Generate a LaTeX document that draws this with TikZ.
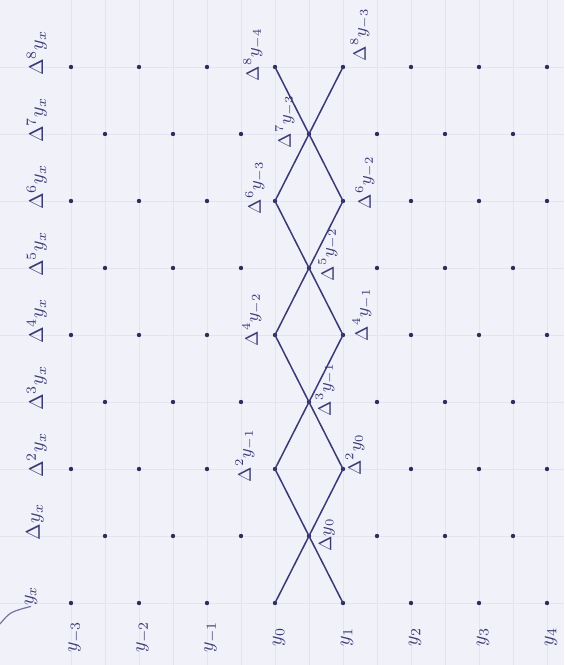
\documentclass[tikz,border=0pt]{standalone}
\usepackage{amsmath,amssymb}
\usepackage{tikz}
\usetikzlibrary{positioning,calc}
\definecolor{InkBlue}{RGB}{58,58,118}
\definecolor{PaperTint}{RGB}{241,241,250}
\definecolor{GridTint}{RGB}{228,228,240}

\begin{document}
\begin{tikzpicture}[
    x=0.5pt, y=-0.5pt,
    dot/.style={
        circle,
        fill=InkBlue!80!black,
        inner sep=0pt,
        minimum size=2.2pt
    },
    lbl/.style={
        rotate=90,
        text=InkBlue,
        inner sep=0pt
    },
    inlbl/.style={
        lbl,
        font=\small
    },
    link/.style={
        draw=InkBlue,
        line width=0.75pt
    },
    gridline/.style={
        draw=GridTint,
        line width=0.4pt
    }
]

\fill[PaperTint] (0,0) rectangle (564,665);
\useasboundingbox (0,0) rectangle (564,665);

% faint paper grid
\foreach \gx in {71,105,...,560}
    \draw[gridline] (\gx,0) -- (\gx,665);
\foreach \k in {0,...,8}
    \draw[gridline] (0,{603-67*\k}) -- (564,{603-67*\k});

% dots of the table
\foreach \k in {0,2,...,8}
    \foreach \j in {0,...,7}
        \node[dot] (p\k-\j) at ({71+68*\j},{603-67*\k}) {};
\foreach \k in {1,3,...,7}
    \foreach \j in {0,...,6}
        \node[dot] (p\k-\j) at ({105+68*\j},{603-67*\k}) {};

% column heads
\node[lbl] (h0) at (31,596) {$y_x$};
\node[lbl] (h1) at (35,522) {$\Delta y_x$};
\foreach \k in {2,...,8}
    \node[lbl] (h\k) at (37,{589-67*\k}) {$\Delta^{\k} y_x$};

% row labels
\foreach \j/\i in {0/-3,1/-2,2/-1,3/0,4/1,5/2,6/3,7/4}
    \node[lbl] (y\j) at ({75+68*\j},637) {$y_{\i}$};

% the two zigzags
\draw[link] (p0-3.center) -- (p1-3.center) -- (p2-4.center) -- (p3-3.center)
    -- (p4-3.center) -- (p5-3.center) -- (p6-4.center) -- (p7-3.center)
    -- (p8-3.center);
\draw[link] (p0-4.center) -- (p1-3.center) -- (p2-3.center) -- (p3-3.center)
    -- (p4-4.center) -- (p5-3.center) -- (p6-3.center) -- (p7-3.center)
    -- (p8-4.center);

% labels along the zigzags
\node[inlbl] (d1)  at (327,535) {$\Delta y_0$};
\node[inlbl] (d2a) at (245,456) {$\Delta^2 y_{-1}$};
\node[inlbl] (d2b) at (355,455) {$\Delta^2 y_0$};
\node[inlbl] (d3)  at (325,390) {$\Delta^3 y_{-1}$};
\node[inlbl] (d4a) at (252,320) {$\Delta^4 y_{-2}$};
\node[inlbl] (d4b) at (362,315) {$\Delta^4 y_{-1}$};
\node[inlbl] (d5)  at (328,255) {$\Delta^5 y_{-2}$};
\node[inlbl] (d6a) at (255,188) {$\Delta^6 y_{-3}$};
\node[inlbl] (d6b) at (365,183) {$\Delta^6 y_{-2}$};
\node[inlbl] (d7)  at (285,122) {$\Delta^7 y_{-3}$};
\node[inlbl] (d8a) at (253,55)  {$\Delta^8 y_{-4}$};
\node[inlbl] (d8b) at (360,35)  {$\Delta^8 y_{-3}$};

% stray pen stroke
\draw[InkBlue!70, line width=0.6pt] (h0.west) .. controls (10,612) .. (0,624);

\end{tikzpicture}
\end{document}
